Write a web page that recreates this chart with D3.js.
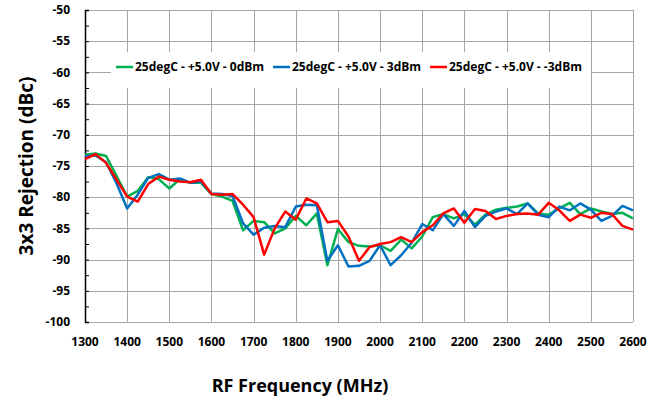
<!DOCTYPE html>
<html>
<head>
<meta charset="utf-8">
<script src="https://cdn.jsdelivr.net/npm/d3@7"></script>
<style>
  body { margin: 0; background: #fff; }
  svg { display: block; }
  text { font-family: 'Open Sans', Lato, sans-serif; font-weight: bold; fill: #000; }
</style>
</head>
<body>
<div id="chart"></div>
<script>
const freqs = d3.range(1300, 2601, 25);

const green0dBm = [
  -73.2, -73.0, -73.4, -76.6, -79.9, -79.0, -76.8, -77.1, -78.6, -77.1, -77.7,
  -77.7, -79.5, -79.9, -80.6, -85.3, -83.8, -84.0, -85.8, -85.0, -83.0, -84.5,
  -82.6, -90.9, -85.1, -87.2, -87.8, -87.9, -87.7, -88.6, -86.8, -88.2, -86.3,
  -83.2, -82.7, -83.4, -82.7, -84.4, -82.8, -82.0, -81.7, -81.5, -81.0, -82.6,
  -82.8, -81.8, -80.9, -82.7, -81.8, -82.3, -82.7, -82.5, -83.4
];
const blue3dBm = [
  -73.4, -73.3, -74.4, -77.8, -81.8, -79.6, -76.9, -76.3, -77.2, -77.0, -77.7,
  -77.5, -79.4, -79.5, -79.8, -84.2, -86.0, -84.9, -84.6, -84.8, -81.5, -81.2,
  -81.3, -90.2, -87.7, -91.1, -91.0, -90.2, -87.7, -90.9, -89.3, -87.3, -84.3,
  -85.3, -82.7, -84.6, -82.2, -84.8, -83.0, -82.3, -81.8, -82.7, -81.0, -82.8,
  -83.2, -81.5, -82.1, -81.0, -82.0, -83.8, -83.0, -81.4, -82.1
];
const redMinus3dBm = [
  -73.9, -73.1, -74.5, -77.2, -79.9, -80.7, -77.9, -76.7, -77.2, -77.5, -77.6,
  -77.2, -79.5, -79.6, -79.5, -81.2, -83.2, -89.2, -85.0, -82.3, -83.6, -80.2,
  -81.0, -84.0, -83.8, -86.3, -90.2, -88.0, -87.5, -87.2, -86.4, -87.2, -85.6,
  -84.5, -82.6, -81.8, -84.1, -81.9, -82.2, -83.5, -83.0, -82.7, -82.6, -82.8,
  -80.9, -82.1, -83.8, -82.8, -83.3, -82.5, -82.7, -84.6, -85.2
];

const seriesNames = ['25degC - +5.0V - 0dBm', '25degC - +5.0V - 3dBm', '25degC - +5.0V - -3dBm'];
const seriesColors = ['#00B050', '#0070C0', '#FF0000'];
const xTicks = d3.range(1300, 2601, 100);
const yTicks = d3.range(-100, -49, 5);

const width = 667, height = 400;
const margin = { left: 85, top: 10, right: 34, bottom: 78 };

const svg = d3.select('#chart').append('svg')
  .attr('width', width)
  .attr('height', height);

const x = d3.scaleLinear().domain([1300, 2600]).range([margin.left, width - margin.right]);
const y = d3.scaleLinear().domain([-100, -50]).range([height - margin.bottom, margin.top]);

// grid
const grid = svg.append('g').attr('stroke', '#a6a6a6').attr('stroke-width', 1);
grid.selectAll('line.v').data(xTicks).join('line')
  .attr('class', 'v')
  .attr('x1', d => Math.round(x(d)) + 0.5).attr('x2', d => Math.round(x(d)) + 0.5)
  .attr('y1', y(-50)).attr('y2', y(-100));
grid.selectAll('line.h').data(yTicks).join('line')
  .attr('class', 'h')
  .attr('x1', x(1300)).attr('x2', x(2600))
  .attr('y1', d => Math.round(y(d)) + 0.5).attr('y2', d => Math.round(y(d)) + 0.5);

// left axis with inside minor ticks
const yAxis = svg.append('g').attr('transform', `translate(${x(1300)},0)`);
yAxis.call(d3.axisLeft(y).tickValues(d3.range(-100, -49, 2.5)).tickSize(-4).tickFormat(''))
  .call(g => g.select('.domain').attr('stroke', '#000').attr('stroke-width', 1.5))
  .call(g => g.selectAll('.tick line').attr('stroke', '#000'));

svg.append('g').selectAll('text').data(yTicks).join('text')
  .attr('x', x(1300) - 15)
  .attr('y', d => y(d))
  .attr('dy', '0.35em')
  .attr('text-anchor', 'end')
  .style('font-size', '12px')
  .text(d => d);

svg.append('g').selectAll('text').data(xTicks).join('text')
  .attr('x', d => x(d))
  .attr('y', y(-100) + 24)
  .attr('text-anchor', 'middle')
  .style('font-size', '12px')
  .text(d => d);

// lines
const allSeries = [green0dBm, blue3dBm, redMinus3dBm];
const line = d3.line()
  .x((d, i) => x(freqs[i]))
  .y(d => y(d));

svg.append('g').selectAll('path').data(allSeries).join('path')
  .attr('d', d => line(d))
  .attr('fill', 'none')
  .attr('stroke', (d, i) => seriesColors[i])
  .attr('stroke-width', 2.5)
  .attr('stroke-linejoin', 'round');

// legend
const legend = svg.append('g');
legend.append('rect')
  .attr('x', 111).attr('y', 52).attr('width', 480).attr('height', 36)
  .attr('fill', '#fff');
const legendX = [116, 273, 430];
const items = legend.selectAll('g').data(seriesNames).join('g')
  .attr('transform', (d, i) => `translate(${legendX[i]},67)`);
items.append('line')
  .attr('x1', 0).attr('x2', 17)
  .attr('stroke', (d, i) => seriesColors[i])
  .attr('stroke-width', 2.5);
items.append('text')
  .attr('x', 19)
  .attr('dy', '0.35em')
  .style('font-size', '12px')
  .text(d => d);

// axis titles
svg.append('text')
  .attr('x', 300).attr('y', 392)
  .attr('text-anchor', 'middle')
  .style('font-size', '18px')
  .text('RF Frequency (MHz)');

svg.append('text')
  .attr('transform', `translate(33,${(y(-50) + y(-100)) / 2}) rotate(-90)`)
  .attr('text-anchor', 'middle')
  .style('font-size', '19px')
  .text('3x3 Rejection (dBc)');
</script>
</body>
</html>
